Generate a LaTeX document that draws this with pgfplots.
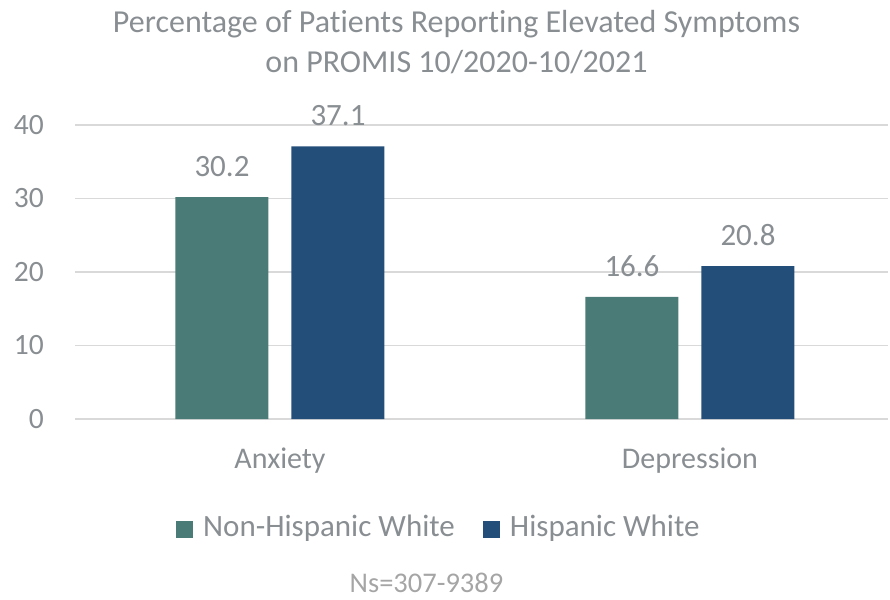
\documentclass[border=0pt]{standalone}
\usepackage{fontspec}
\setmainfont{Carlito}[Ligatures=NoCommon]
\usepackage{pgfplots}
\pgfplotsset{compat=1.18}
\definecolor{teal1}{RGB}{74,123,118}
\definecolor{navy1}{RGB}{35,78,122}
\definecolor{txt}{RGB}{137,142,146}
\definecolor{txtl}{RGB}{165,165,165}
\definecolor{grd}{RGB}{217,217,217}
\begin{document}
\begin{tikzpicture}
\useasboundingbox (-75bp,-181bp) rectangle (815bp,419bp);
\begin{axis}[
 at={(0,0)}, anchor=south west,
 scale only axis, width=813bp, height=294bp,
 xmin=-0.5, xmax=1.483, ymin=0, ymax=40,
 ytick={0,10,20,30,40},
 xtick={0,1}, xticklabels={Anxiety,Depression},
 axis line style={draw=none},
 major tick length=0pt,
 ymajorgrids, grid style={grd, line width=1.3bp},
 ybar, bar width=93bp,
 tick label style={font=\fontsize{29.5bp}{34bp}\selectfont, text=txt},
 yticklabel style={anchor=east, inner sep=0pt, xshift=-31bp},
 xticklabel style={font=\fontsize{30bp}{35bp}\selectfont, anchor=base, inner sep=0pt, yshift=-49.5bp},
 /pgf/number format/assume math mode=true,
 nodes near coords={\pgfmathprintnumber[fixed,fixed zerofill,precision=1]{\pgfplotspointmeta}},
 every node near coord/.append style={font=\fontsize{31bp}{36bp}\selectfont, text=txt, anchor=base, inner sep=0pt, yshift=20.5bp},
 legend columns=2,
 legend style={at={(0.1242,-0.367)}, anchor=west, draw=none, fill=none, inner sep=0pt,
   font=\fontsize{31bp}{36bp}\selectfont, text=txt, cells={anchor=west}, nodes={inner sep=0pt},
   /tikz/every odd column/.append style={column sep=10bp},
   /tikz/every even column/.append style={column sep=28bp}},
 legend image code/.code={\fill[#1] (0bp,-11.5bp) rectangle (17bp,5.5bp);},
]
\addplot[fill=teal1, draw=none, bar shift=-58bp] coordinates {(0,30.2) (1,16.6)};
\addplot[fill=navy1, draw=none, bar shift=58bp] coordinates {(0,37.1) (1,20.8)};
\legend{Non-Hispanic White, Hispanic White}
\end{axis}
\node[anchor=base, text=txt, font=\fontsize{32bp}{37bp}\selectfont, inner sep=0pt] at (381.5bp,386.7bp) {Percentage of Patients Reporting Elevated Symptoms};
\node[anchor=base, text=txt, font=\fontsize{32bp}{37bp}\selectfont, inner sep=0pt] at (381.5bp,346bp) {on PROMIS 10/2020-10/2021};
\node[anchor=base, text=txtl, font=\fontsize{28.5bp}{33bp}\selectfont, inner sep=0pt] at (351.5bp,-173bp) {Ns=307-9389};
\end{tikzpicture}
\end{document}
